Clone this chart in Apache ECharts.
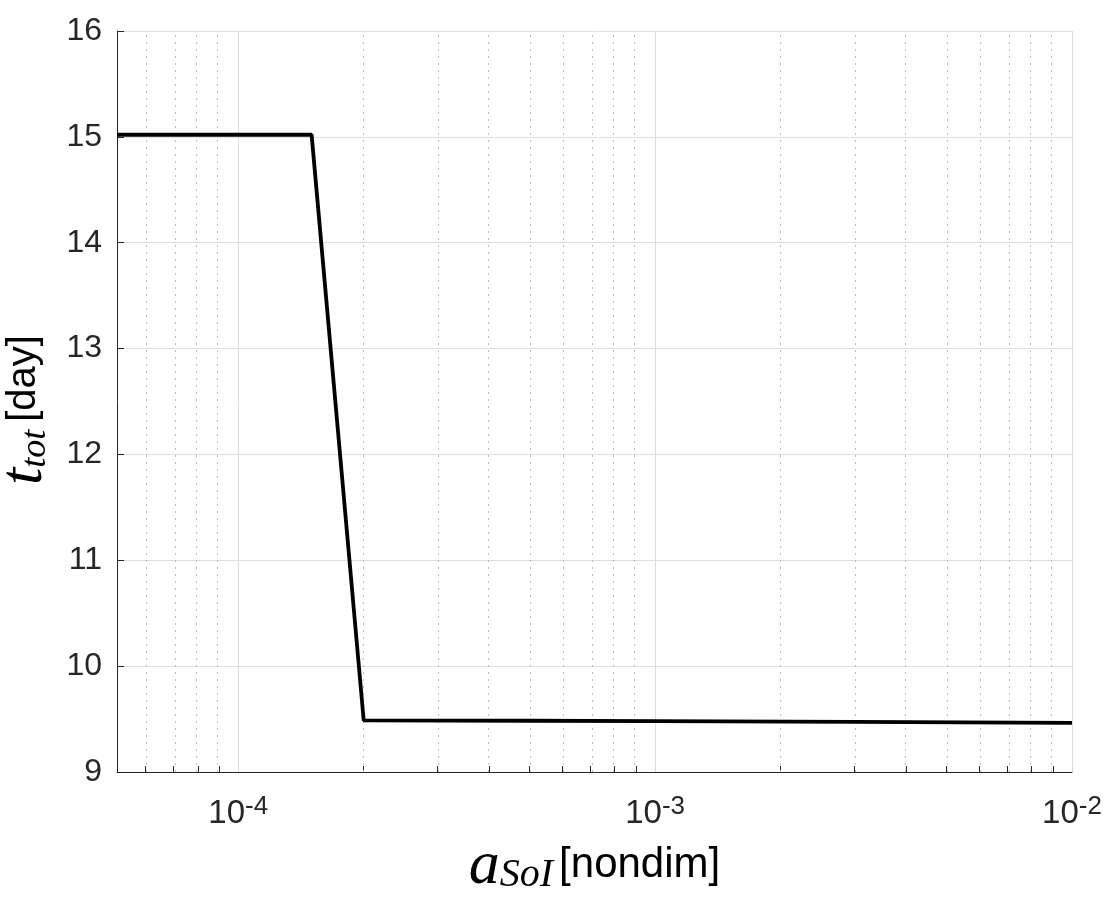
<!DOCTYPE html>
<html><head><meta charset="utf-8">
<script src="https://cdn.jsdelivr.net/npm/echarts@6/dist/echarts.min.js"></script>
<style>html,body{margin:0;padding:0;background:#fff}#c{width:1112px;height:900px}</style>
</head><body><div id="c"></div>
<script>
// ---- data ----
const aSoI = [5.12e-5, 1e-4, 1.5e-4, 2e-4, 5e-4, 1e-3, 3e-3, 1e-2];
const tTot = [15.02, 15.02, 15.02, 9.487, 9.484, 9.481, 9.474, 9.465];
const xMin = 5.12e-5, xMax = 1e-2;
const xMajorTicks = [1e-4, 1e-3, 1e-2];
const xMinorTicks = [6e-5, 7e-5, 8e-5, 9e-5,
  2e-4, 3e-4, 4e-4, 5e-4, 6e-4, 7e-4, 8e-4, 9e-4,
  2e-3, 3e-3, 4e-3, 5e-3, 6e-3, 7e-3, 8e-3, 9e-3];
const yMin = 9, yMax = 16, yStep = 1;

const L = Math.log10;
const SANS = '"Liberation Sans", Arial, Helvetica, sans-serif';
const SERIF = '"Liberation Serif", "Times New Roman", serif';
const TXT = '#262626';

const allTicks = xMinorTicks.concat(xMajorTicks).map(L).sort((a, b) => a - b);

const gridLines = []
  .concat(xMinorTicks.map(v => ({ xAxis: L(v), lineStyle: { color: '#bdbdbd', width: 1, type: [2, 5] } })))
  .concat(xMajorTicks.map(v => ({ xAxis: L(v), lineStyle: { color: '#dcdcdc', width: 1, type: 'solid' } })));

const chart = echarts.init(document.getElementById('c'), null, { renderer: 'canvas' });
chart.setOption({
  animation: false,
  backgroundColor: '#fff',
  grid: { left: 117, right: 40, top: 31, bottom: 128, containLabel: false, outerBoundsMode: 'none' },
  xAxis: {
    type: 'value',
    min: L(xMin), max: L(xMax),
    name: '{a|a}{sub|SoI}{n|[nondim]}',
    nameLocation: 'middle',
    nameGap: 63,
    nameTextStyle: {
      rich: {
        a: { fontFamily: SERIF, fontStyle: 'italic', fontSize: 62, color: '#000', lineHeight: 47, verticalAlign: 'top' },
        sub: { fontFamily: SERIF, fontStyle: 'italic', fontSize: 40, color: '#000', lineHeight: 28, verticalAlign: 'bottom' },
        n: { fontFamily: SANS, fontSize: 42, color: '#000', lineHeight: 60, verticalAlign: 'middle', padding: [0, 0, 0, 6] }
      }
    },
    axisLine: { show: true, lineStyle: { color: TXT, width: 1 } },
    axisTick: { show: true, inside: true, length: 6, customValues: allTicks, lineStyle: { color: TXT } },
    splitLine: { show: false },
    axisLabel: {
      customValues: xMajorTicks.map(L),
      margin: 22,
      formatter: v => '{b|10}{s|' + Math.round(v) + '}',
      rich: {
        b: { fontFamily: SANS, fontSize: 33, color: TXT, lineHeight: 40, verticalAlign: 'middle' },
        s: { fontFamily: SANS, fontSize: 26, color: TXT, lineHeight: 17, verticalAlign: 'top' }
      }
    }
  },
  yAxis: {
    type: 'value',
    min: yMin, max: yMax, interval: yStep,
    name: '{t|t}{sub|tot}{d|[day]}',
    nameLocation: 'middle',
    nameRotate: 90,
    nameGap: 55,
    nameTextStyle: {
      padding: [0, 17, 0, 0],
      rich: {
        t: { fontFamily: SERIF, fontStyle: 'italic', fontSize: 62, color: '#000', lineHeight: 46, verticalAlign: 'top' },
        sub: { fontFamily: SERIF, fontStyle: 'italic', fontSize: 36, color: '#000', lineHeight: 30, verticalAlign: 'bottom' },
        d: { fontFamily: SANS, fontSize: 40, color: '#000', lineHeight: 60, verticalAlign: 'middle', padding: [0, 0, 0, 8] }
      }
    },
    axisLine: { show: true, lineStyle: { color: TXT, width: 1 } },
    axisTick: { show: true, inside: true, length: 7, lineStyle: { color: TXT } },
    splitLine: { show: true, lineStyle: { color: '#dedede', width: 1 } },
    axisLabel: { fontFamily: SANS, fontSize: 32, color: TXT, margin: 15 }
  },
  series: [
    {
      type: 'line', z: 1, silent: true,
      data: aSoI.map((x, i) => [L(x), tTot[i]]),
      symbol: 'none', lineStyle: { opacity: 0 },
      markLine: { silent: true, symbol: ['none', 'none'], label: { show: false }, animation: false, data: gridLines }
    },
    {
      type: 'line', z: 5,
      data: aSoI.map((x, i) => [L(x), tTot[i]]),
      symbol: 'none',
      lineStyle: { color: '#000', width: 3.8 }
    }
  ]
});
</script>
</body></html>
